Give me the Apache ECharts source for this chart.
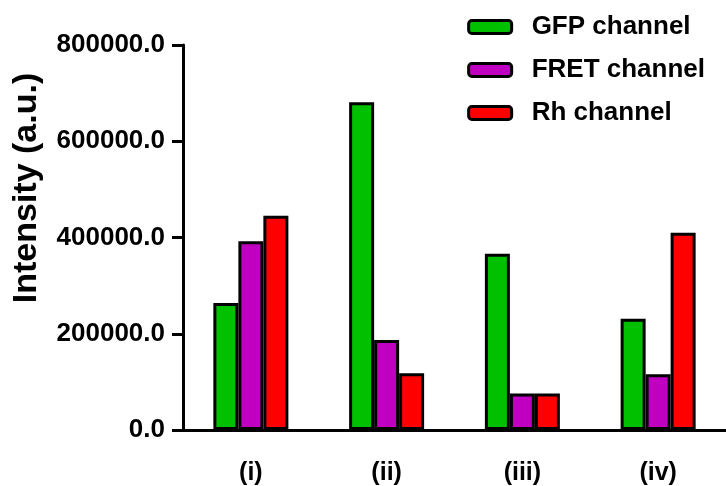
<!DOCTYPE html>
<html>
<head>
<meta charset="utf-8">
<script src="https://cdn.jsdelivr.net/npm/echarts@6/dist/echarts.min.js"></script>
<style>
  html, body { margin: 0; padding: 0; background: #fff; }
  #chart { width: 726px; height: 486px; }
</style>
</head>
<body>
<div id="chart"></div>
<script>
// Samples and measured intensities per imaging channel
var categories = ['(i)', '(ii)', '(iii)', '(iv)'];
var gfpValues = [264000, 681000, 366000, 231000];
var fretValues = [392000, 187000, 75600, 116000];
var rhValues = [445000, 118000, 75600, 410000];
var yTicks = [0, 200000, 400000, 600000, 800000];

var FONT = "'Liberation Sans', Arial, Helvetica, sans-serif";

function barSeries(name, data, color) {
  return {
    name: name,
    type: 'bar',
    data: data,
    barWidth: 25,
    barGap: '0%',
    itemStyle: { color: color, borderColor: '#000', borderWidth: 3 }
  };
}

var chart = echarts.init(document.getElementById('chart'));
chart.setOption({
  animation: false,
  backgroundColor: '#fff',
  grid: { left: 183, top: 45, bottom: 52, right: -4 },
  legend: {
    right: 16,
    top: 9,
    orient: 'vertical',
    itemWidth: 43,
    itemHeight: 13,
    itemGap: 17,
    icon: 'roundRect',
    itemStyle: { borderColor: '#000', borderWidth: 3 },
    textStyle: { fontFamily: FONT, fontWeight: 'bold', fontSize: 26, color: '#000', padding: [0, 0, 0, 15] },
    data: ['GFP channel', 'FRET channel', 'Rh channel']
  },
  xAxis: {
    type: 'category',
    data: categories,
    axisLine: { lineStyle: { color: '#000', width: 3 } },
    axisTick: { alignWithLabel: true, length: 10, lineStyle: { color: '#000', width: 3 } },
    axisLabel: { margin: 31, fontFamily: FONT, fontWeight: 'bold', fontSize: 25, color: '#000' }
  },
  yAxis: {
    type: 'value',
    min: yTicks[0],
    max: yTicks[yTicks.length - 1],
    interval: yTicks[1] - yTicks[0],
    splitLine: { show: false },
    axisLine: { show: true, lineStyle: { color: '#000', width: 3 } },
    axisTick: { show: true, length: 11, lineStyle: { color: '#000', width: 3 } },
    axisLabel: {
      margin: 18,
      fontFamily: FONT, fontWeight: 'bold', fontSize: 26, color: '#000',
      formatter: function (v) { return v.toFixed(1); }
    }
  },
  graphic: [{
    type: 'text',
    x: 27,
    y: 188,
    rotation: Math.PI / 2,
    style: {
      text: 'Intensity (a.u.)',
      fontFamily: FONT,
      fontWeight: 'bold',
      fontSize: 34,
      fill: '#000',
      textAlign: 'center',
      textVerticalAlign: 'middle'
    }
  }],
  series: [
    barSeries('GFP channel', gfpValues, '#00c000'),
    barSeries('FRET channel', fretValues, '#c000c0'),
    barSeries('Rh channel', rhValues, '#ff0000')
  ]
});
</script>
</body>
</html>
